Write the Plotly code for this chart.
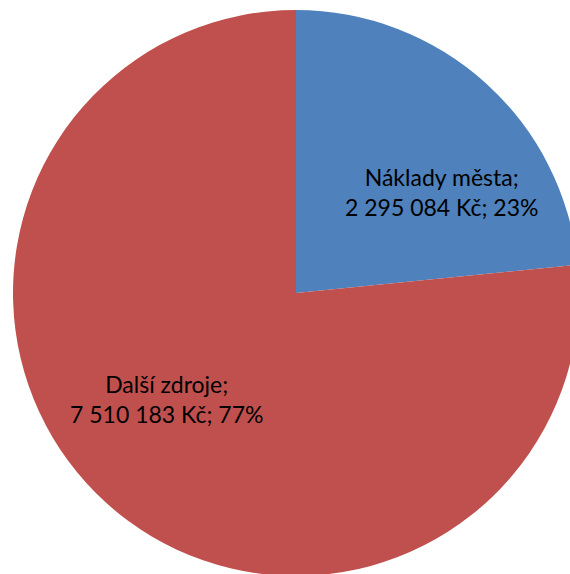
import plotly.graph_objects as go

labels = ["Náklady města", "Další zdroje"]
values = [2295084, 7510183]
colors = ["#4F81BD", "#C0504D"]

W, H = 580, 580
cx, cy, r = 296, 293, 283

total = sum(values)
def fmt(v):
    return f"{v:,}".replace(",", " ")
texts = [f"{l};<br>{fmt(v)} Kč; {round(v / total * 100)}%" for l, v in zip(labels, values)]

fig = go.Figure(go.Pie(
    labels=labels, values=values, sort=False, direction="clockwise", rotation=0,
    marker=dict(colors=colors, line=dict(width=0)),
    textinfo="none", hoverinfo="none", showlegend=False,
    domain=dict(x=[(cx - r) / W, (cx + r) / W], y=[(H - cy - r) / H, (H - cy + r) / H]),
))

label_pos = [(441, 192), (166, 399)]
for t, (px, py) in zip(texts, label_pos):
    fig.add_annotation(x=px / W, y=1 - py / H, xref="paper", yref="paper", text=t,
                       showarrow=False, font=dict(family="Lato", size=23, color="black"),
                       align="center", xanchor="center", yanchor="middle")

fig.update_layout(width=W, height=H, margin=dict(l=0, r=0, t=0, b=0),
                  paper_bgcolor="white", plot_bgcolor="white")

fig.write_html("out.html", config={"displayModeBar": False},
               post_script="document.body.style.margin='0';document.body.style.overflow='hidden';document.documentElement.style.overflow='hidden';")
